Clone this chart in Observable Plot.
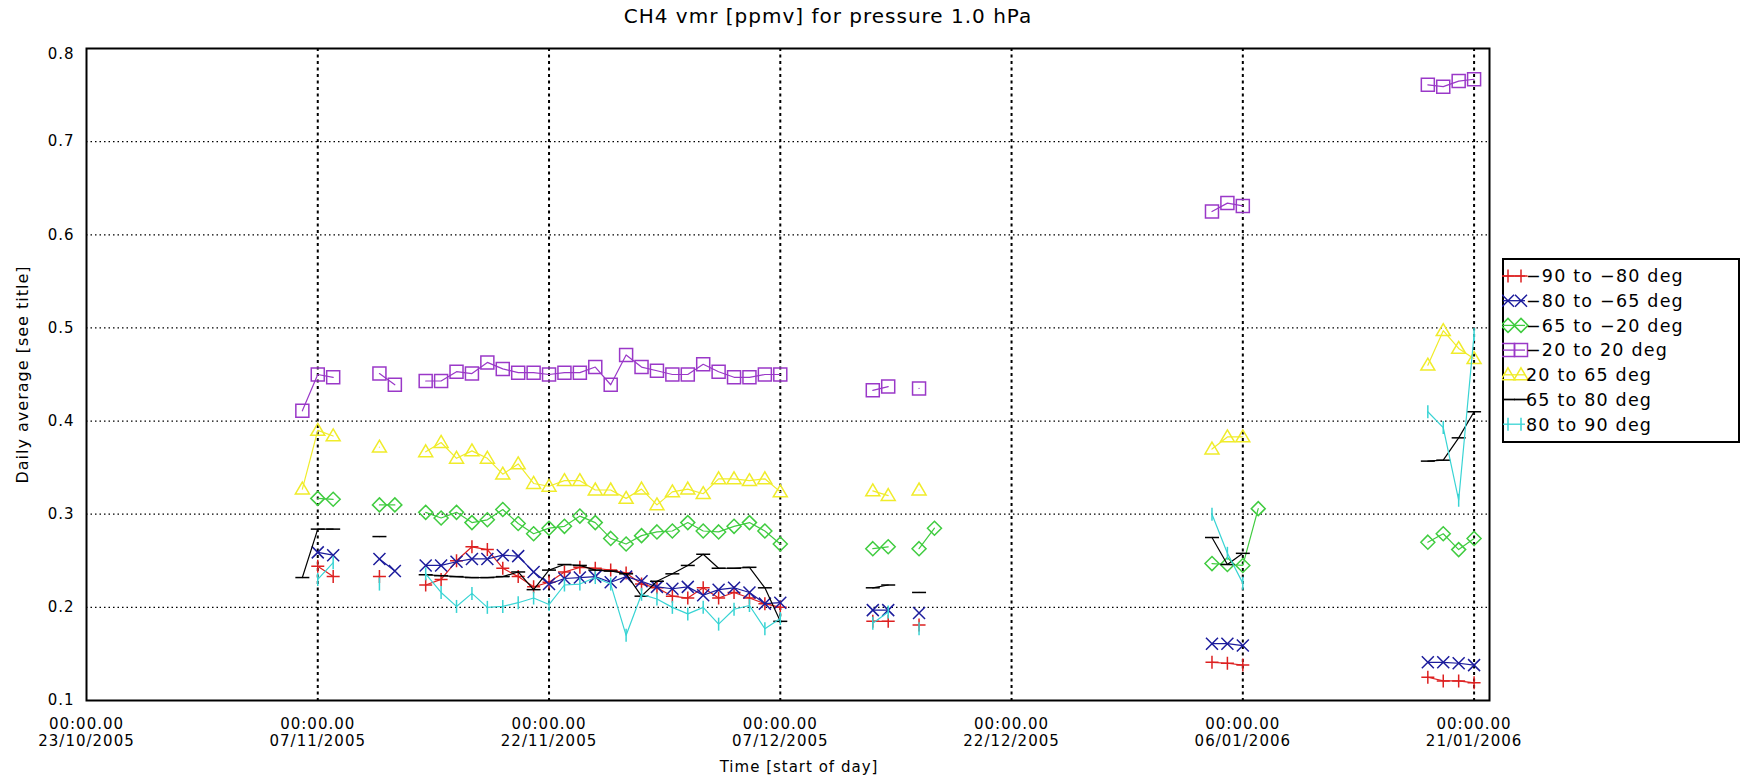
<!DOCTYPE html>
<html>
<head>
<meta charset="utf-8">
<script src="https://cdn.jsdelivr.net/npm/d3@7"></script>
<script src="https://cdn.jsdelivr.net/npm/@observablehq/plot@0.6"></script>
<style>
html,body{margin:0;padding:0;background:#fff;}
#chart{position:relative;width:1740px;height:783px;overflow:hidden;font-family:"DejaVu Sans",sans-serif;background:#fff;}
#chart svg text{letter-spacing:1px;}
#legend{position:absolute;left:1502px;top:258px;}
</style>
</head>
<body>
<div id="chart"></div>
<script>
// ---------- texts ----------
const titleText = "CH4 vmr [ppmv] for pressure 1.0 hPa";
const xTitle = "Time [start of day]";
const yTitle = "Daily average [see title]";

// ---------- axes ----------
const xDomain = ["2005-10-23", "2006-01-22"];
const yDomain = [0.1, 0.8];
const xTicks = ["2005-10-23", "2005-11-07", "2005-11-22", "2005-12-07", "2005-12-22", "2006-01-06", "2006-01-21"];
const yTicks = [0.1, 0.2, 0.3, 0.4, 0.5, 0.6, 0.7, 0.8];

// ---------- categories ----------
const seriesNames = ["−90 to −80 deg", "−80 to −65 deg", "−65 to −20 deg", "−20 to 20 deg", "20 to 65 deg", "65 to 80 deg", "80 to 90 deg"];

// ---------- observation days ----------
const dates = [
  "2005-11-06", "2005-11-07", "2005-11-08", "2005-11-11", "2005-11-12",
  "2005-11-14", "2005-11-15", "2005-11-16", "2005-11-17", "2005-11-18", "2005-11-19", "2005-11-20",
  "2005-11-21", "2005-11-22", "2005-11-23", "2005-11-24", "2005-11-25", "2005-11-26", "2005-11-27",
  "2005-11-28", "2005-11-29", "2005-11-30", "2005-12-01", "2005-12-02", "2005-12-03", "2005-12-04",
  "2005-12-05", "2005-12-06", "2005-12-07",
  "2005-12-13", "2005-12-14", "2005-12-16", "2005-12-17",
  "2006-01-04", "2006-01-05", "2006-01-06", "2006-01-07",
  "2006-01-18", "2006-01-19", "2006-01-20", "2006-01-21"
];

// ---------- series values (ppmv), null = no data ----------
const lat90to80S = [null, 0.244, 0.233, 0.233, null,
  0.224, 0.230, 0.250, 0.265, 0.262, 0.242, 0.233, 0.222, 0.227, 0.238, 0.243, 0.242, 0.240, 0.237,
  0.225, 0.221, 0.212, 0.210, 0.221, 0.210, 0.216, 0.210, 0.204, 0.200,
  0.185, 0.185, 0.181, null,
  0.141, 0.140, 0.138, null,
  0.125, 0.121, 0.121, 0.119];
const lat80to65S = [null, 0.259, 0.256, 0.252, 0.239,
  0.245, 0.245, 0.249, 0.252, 0.252, 0.256, 0.255, 0.238, 0.225, 0.231, 0.232, 0.233, 0.227, 0.233,
  0.228, 0.222, 0.220, 0.222, 0.213, 0.219, 0.221, 0.216, 0.204, 0.205,
  0.197, 0.197, 0.194, null,
  0.161, 0.161, 0.159, null,
  0.141, 0.141, 0.140, 0.138];
const lat65to20S = [null, 0.317, 0.316, 0.310, 0.310,
  0.302, 0.296, 0.302, 0.291, 0.294, 0.305, 0.290, 0.279, 0.285, 0.287, 0.298, 0.291, 0.274, 0.268,
  0.277, 0.281, 0.282, 0.291, 0.282, 0.281, 0.287, 0.291, 0.282, 0.268,
  0.263, 0.265, 0.263, 0.285,
  0.247, 0.246, 0.245, 0.306,
  0.270, 0.279, 0.262, 0.274];
const lat20S20N = [0.411, 0.450, 0.447, 0.451, 0.439,
  0.443, 0.443, 0.453, 0.451, 0.463, 0.456, 0.452, 0.452, 0.450, 0.452, 0.452, 0.458, 0.439, 0.471,
  0.458, 0.454, 0.450, 0.450, 0.461, 0.453, 0.447, 0.447, 0.450, 0.450,
  0.433, 0.437, 0.435, null,
  0.625, 0.634, 0.631, null,
  0.761, 0.759, 0.765, 0.767];
const lat20to65N = [0.327, 0.390, 0.384, 0.372, null,
  0.367, 0.377, 0.360, 0.368, 0.360, 0.343, 0.354, 0.333, 0.330, 0.336, 0.336, 0.326, 0.326, 0.317,
  0.327, 0.310, 0.324, 0.327, 0.322, 0.338, 0.338, 0.336, 0.338, 0.324,
  0.325, 0.320, 0.326, null,
  0.370, 0.383, 0.383, null,
  0.460, 0.497, 0.478, 0.467];
const lat65to80N = [0.232, 0.284, 0.284, 0.276, null,
  0.235, 0.234, 0.233, 0.232, 0.232, 0.233, 0.238, 0.219, 0.240, 0.246, 0.245, 0.240, 0.239, 0.236,
  0.212, 0.228, 0.236, 0.245, 0.257, 0.242, 0.242, 0.243, 0.221, 0.185,
  0.221, 0.224, 0.216, null,
  0.275, 0.246, 0.258, null,
  0.357, 0.358, 0.382, 0.410];
const lat80to90N = [null, 0.230, 0.248, 0.225, null,
  0.236, 0.216, 0.201, 0.215, 0.200, 0.201, 0.205, 0.210, 0.203, 0.224, 0.225, 0.232, 0.225, 0.170,
  0.214, 0.209, 0.200, 0.193, 0.200, 0.182, 0.198, 0.202, 0.177, 0.188,
  0.183, 0.195, 0.177, null,
  0.300, 0.258, 0.226, null,
  0.410, 0.393, 0.315, 0.493];

const seriesValues = [lat90to80S, lat80to65S, lat65to20S, lat20S20N, lat20to65N, lat65to80N, lat80to90N];

// ---------- styling ----------
const seriesColors = ["#dd2020", "#1c1c9c", "#40cc40", "#9a38c8", "#f0ec2a", "#000000", "#38d4d4"];
const seriesShapes = ["plus", "times", "diamond", "square", "triangle", "hdash", "vdash"];
const shapeRadius = {plus: 6.5, times: 6, diamond: 7, square: 6.5, triangle: 7, hdash: 7, vdash: 6.5};

function makeSym(fn) { return {draw(ctx, size) { fn(ctx, Math.sqrt(size / Math.PI)); }}; }
const shapes = {
  plus: makeSym((c, r) => { c.moveTo(-r, 0); c.lineTo(r, 0); c.moveTo(0, -r); c.lineTo(0, r); }),
  times: makeSym((c, r) => { c.moveTo(-r, -r); c.lineTo(r, r); c.moveTo(-r, r); c.lineTo(r, -r); }),
  diamond: makeSym((c, r) => { c.moveTo(0, -r); c.lineTo(r, 0); c.lineTo(0, r); c.lineTo(-r, 0); c.closePath(); }),
  square: makeSym((c, r) => { c.moveTo(-r, -r); c.lineTo(r, -r); c.lineTo(r, r); c.lineTo(-r, r); c.closePath(); }),
  triangle: makeSym((c, r) => { c.moveTo(0, -r); c.lineTo(r, r * 0.7); c.lineTo(-r, r * 0.7); c.closePath(); }),
  hdash: makeSym((c, r) => { c.moveTo(-r, 0); c.lineTo(r, 0); }),
  vdash: makeSym((c, r) => { c.moveTo(0, -r); c.lineTo(0, r); })
};

// ---------- build tidy rows; break lines where days are missing ----------
const DAY = 864e5;
const seriesRows = seriesValues.map((vals, si) => {
  const rows = [];
  let seg = 0, prev = null;
  vals.forEach((v, i) => {
    if (v == null) return;
    const d = new Date(dates[i]);
    if (prev && (d - prev) > 1.5 * DAY) seg++;
    prev = d;
    rows.push({date: d, value: v, seg, series: seriesNames[si]});
  });
  return rows;
});

const marks = [
  Plot.gridY(yTicks.slice(1, -1), {stroke: "black", strokeOpacity: 1, strokeWidth: 1.2, strokeDasharray: "1.5,3"}),
  Plot.gridX(xTicks.slice(1).map(d => new Date(d)), {stroke: "black", strokeOpacity: 1, strokeWidth: 2, strokeDasharray: "3,3.5"})
];
seriesRows.forEach((rows, si) => {
  marks.push(Plot.line(rows, {x: "date", y: "value", z: "seg", stroke: seriesColors[si], strokeWidth: 1.2}));
  marks.push(Plot.dot(rows, {x: "date", y: "value", symbol: shapes[seriesShapes[si]], r: shapeRadius[seriesShapes[si]],
    stroke: seriesColors[si], fill: "none", strokeWidth: 1.5}));
});
const fmtY = d3.format(".1f");
marks.push(
  Plot.axisX(xTicks.map(d => new Date(d)), {
    tickSize: 0, tickPadding: 17, fontSize: 15, lineHeight: 1.1, label: null,
    tickFormat: d => "00:00.00\n" + d3.utcFormat("%d/%m/%Y")(d)
  }),
  Plot.axisY(yTicks.slice(0, -1), {tickSize: 0, tickPadding: 12, fontSize: 15, label: null, tickFormat: fmtY}),
  Plot.axisY(yTicks.slice(-1), {tickSize: 0, tickPadding: 12, fontSize: 15, label: null, tickFormat: fmtY, dy: 6}),
  Plot.frame({stroke: "black", strokeWidth: 2}),
  Plot.text([titleText], {text: d => d, frameAnchor: "top", lineAnchor: "middle", dx: 40, dy: -32, fontSize: 20}),
  Plot.text([yTitle], {text: d => d, frameAnchor: "left", textAnchor: "middle", lineAnchor: "middle", dx: -64, rotate: -90, fontSize: 16}),
  Plot.text([xTitle], {text: d => d, frameAnchor: "bottom", lineAnchor: "middle", dx: 11, dy: 67, fontSize: 15})
);

const chart = Plot.plot({
  width: 1740, height: 783,
  marginLeft: 86, marginRight: 251, marginTop: 48, marginBottom: 83,
  style: {fontFamily: "DejaVu Sans, sans-serif", fontSize: "15px", background: "white", color: "black", overflow: "visible"},
  x: {type: "utc", domain: xDomain.map(d => new Date(d))},
  y: {domain: yDomain},
  marks
});
const host = document.getElementById("chart");
host.appendChild(chart);

// ---------- legend ----------
const lw = 238, lh = 185, rowY0 = 18, rowStep = 24.7;
const leg = d3.create("svg").attr("id", "legend").attr("width", lw).attr("height", lh)
  .style("font-family", "DejaVu Sans, sans-serif");
leg.append("rect").attr("x", 1).attr("y", 1).attr("width", lw - 2).attr("height", lh - 2)
  .attr("fill", "white").attr("stroke", "black").attr("stroke-width", 2);
seriesNames.forEach((name, i) => {
  const y = rowY0 + i * rowStep;
  const g = leg.append("g").attr("transform", `translate(0,${y})`);
  g.append("line").attr("x1", 1).attr("x2", 23).attr("y1", 0).attr("y2", 0)
    .attr("stroke", seriesColors[i]).attr("stroke-width", 1.3);
  const shp = seriesShapes[i];
  const r = shapeRadius[shp];
  [6, 19].forEach(cx => {
    const p = d3.path();
    shapes[shp].draw(p, Math.PI * r * r);
    g.append("path").attr("d", p.toString()).attr("transform", `translate(${cx},0)`)
      .attr("fill", "none").attr("stroke", seriesColors[i]).attr("stroke-width", 1.5);
  });
  g.append("text").attr("x", 24).attr("y", 0).attr("dy", "0.36em").attr("font-size", 17.5)
    .style("letter-spacing", "1.2px").text(name);
});
host.appendChild(leg.node());
</script>
</body>
</html>
